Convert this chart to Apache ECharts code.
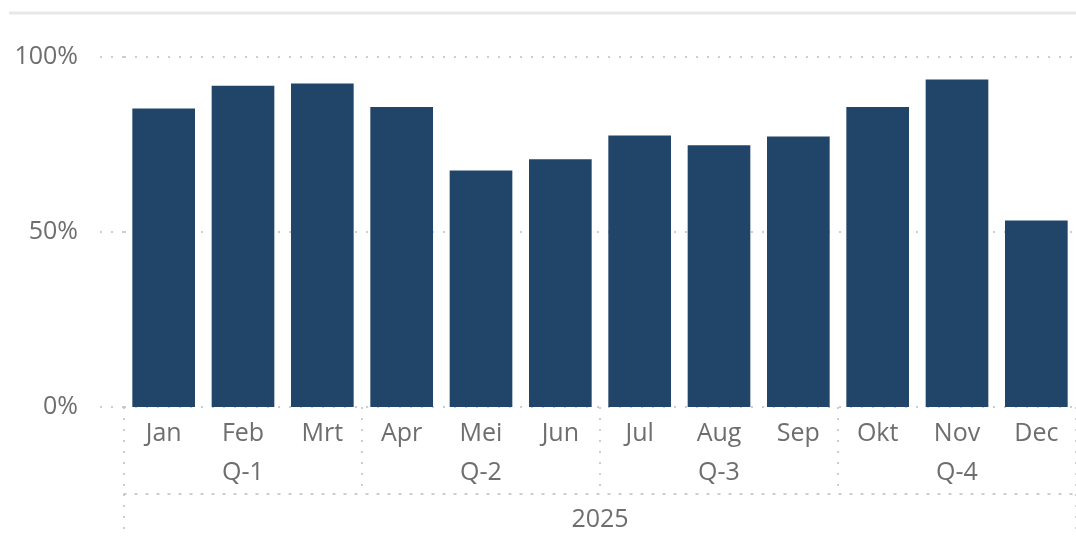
<!DOCTYPE html>
<html>
<head>
<meta charset="utf-8">
<script src="https://cdn.jsdelivr.net/npm/echarts@6/dist/echarts.min.js"></script>
<style>
  html, body { margin: 0; padding: 0; background: #fff; }
  #chart { width: 1076px; height: 537px; }
</style>
</head>
<body>
<div id="chart"></div>
<script>
const months = ["Jan", "Feb", "Mrt", "Apr", "Mei", "Jun", "Jul", "Aug", "Sep", "Okt", "Nov", "Dec"];
const quarters = ["Q-1", "Q-2", "Q-3", "Q-4"];
const years = ["2025"];
const values = [85.3, 91.8, 92.4, 85.7, 67.6, 70.8, 77.6, 74.8, 77.3, 85.7, 93.6, 53.3];
const yTicks = [0, 50, 100];

const labelColor = "#6e6e6e";
const gridColor = "#bdbdbd";
const fontFamily = "'Segoe UI', 'Open Sans', sans-serif";
const fontSize = 25;
const dotted = { color: gridColor, width: 1.5, type: [2, 9] };

const chart = echarts.init(document.getElementById("chart"), null, { renderer: "canvas" });

chart.setOption({
  animation: false,
  backgroundColor: "#ffffff",
  graphic: [
    {
      // title underline
      type: "line",
      shape: { x1: 9, y1: 13, x2: 1076, y2: 13 },
      style: { stroke: "#e8e8e8", lineWidth: 3 },
    },
  ],
  grid: [
    { left: 124, right: 0, top: 57, height: 350 },
    // small stub so the gridlines start left of the bars
    { left: 100, width: 24, top: 57, height: 350 },
  ],
  xAxis: [
    {
      // months
      type: "category",
      gridIndex: 0,
      data: months,
      position: "bottom",
      axisLine: { show: false },
      axisTick: { show: false },
      axisLabel: { color: labelColor, fontSize, fontFamily, margin: 14 },
    },
    {
      // quarters
      type: "category",
      gridIndex: 0,
      data: quarters,
      position: "bottom",
      offset: 0,
      axisLine: { show: false },
      axisTick: { show: true, length: 87, lineStyle: dotted },
      axisLabel: { color: labelColor, fontSize, fontFamily, margin: 53 },
    },
    {
      // year
      type: "category",
      gridIndex: 0,
      data: years,
      position: "bottom",
      offset: 87,
      axisLine: { show: true, lineStyle: dotted },
      axisTick: { show: true, length: 43, lineStyle: dotted },
      axisLabel: { color: labelColor, fontSize, fontFamily, margin: 13 },
    },
    { type: "value", gridIndex: 1, show: false },
  ],
  yAxis: [
    {
      type: "value",
      gridIndex: 0,
      min: yTicks[0],
      max: yTicks[yTicks.length - 1],
      interval: yTicks[1] - yTicks[0],
      axisLine: { show: false },
      axisTick: { show: false },
      splitLine: { show: true, lineStyle: dotted },
      axisLabel: {
        color: labelColor,
        fontSize,
        fontFamily,
        margin: 46,
        formatter: "{value}%",
      },
    },
    {
      type: "value",
      gridIndex: 1,
      min: yTicks[0],
      max: yTicks[yTicks.length - 1],
      interval: yTicks[1] - yTicks[0],
      axisLine: { show: false },
      axisTick: { show: false },
      axisLabel: { show: false },
      splitLine: { show: true, lineStyle: dotted },
    },
  ],
  series: [
    {
      type: "bar",
      xAxisIndex: 0,
      yAxisIndex: 0,
      data: values,
      barCategoryGap: "21%",
      itemStyle: { color: "#214568" },
    },
  ],
});
</script>
</body>
</html>
